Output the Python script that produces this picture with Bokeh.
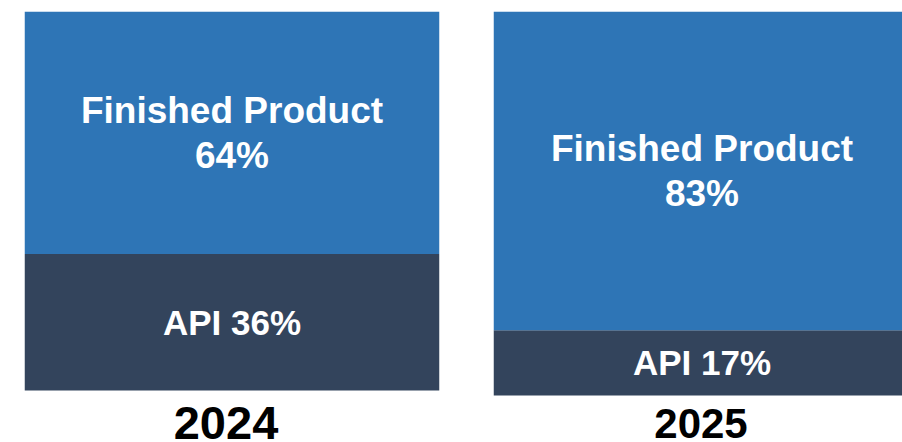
from bokeh.plotting import figure
from bokeh.models import Range1d
from bokeh.layouts import row
from bokeh.core.properties import value
from bokeh.embed import file_html
from bokeh.resources import INLINE

# ---- data ----
years = ["2024", "2025"]
api_share = [36, 17]
finished_share = [64, 83]
api_name = "API"
finished_name = "Finished Product"

# ---- style ----
BLUE = "#2E75B6"
DARK = "#33445C"
FONT = "Liberation Sans"

# per-panel geometry (pixels): frame box and where 0 lies
panels = [
    dict(width=478, height=442, left=24, right=39, top=11, bar_px=379, zero_px=390,
         bar_w_px=415, year_size="47px", year_dy=32, year_dx=-6),
    dict(width=424, height=442, left=15, right=0, top=10, bar_px=385, zero_px=395,
         bar_w_px=417, year_size="42px", year_dy=28, year_dx=-1),
]

figs = []
for i, cfg in enumerate(panels):
    frame_w = cfg["width"] - cfg["left"] - cfg["right"]
    below_px = cfg["height"] - cfg["zero_px"]
    y_start = -below_px * 100.0 / cfg["bar_px"]
    x_end = -0.5 + frame_w / cfg["bar_w_px"]
    p = figure(width=cfg["width"], height=cfg["height"],
               x_range=Range1d(-0.5, x_end), y_range=Range1d(y_start, 100),
               output_backend="svg", toolbar_location=None,
               x_axis_location=None, y_axis_location=None,
               min_border=0,
               min_border_left=cfg["left"], min_border_right=cfg["right"],
               min_border_top=cfg["top"], min_border_bottom=0,
               outline_line_color=None, background_fill_color="white",
               border_fill_color="white")
    p.xgrid.visible = False
    p.ygrid.visible = False

    api = api_share[i]
    fin = finished_share[i]
    p.vbar(x=[0], bottom=[0], top=[api], width=1, fill_color=DARK, line_color=None)
    p.vbar(x=[0], bottom=[api], top=[api + fin], width=1, fill_color=BLUE, line_color=None)

    p.text(x=[0], y=[api + fin / 2], text=[f"{finished_name}\n{fin}%"],
           text_align="center", text_baseline="middle",
           text_font=value(FONT), text_font_style="bold",
           text_font_size="37px", text_color="white", text_line_height=1.1)
    p.text(x=[0], y=[api / 2], text=[f"{api_name} {api}%"],
           text_align="center", text_baseline="middle",
           text_font=value(FONT), text_font_style="bold",
           text_font_size="35px", text_color="white")

    p.text(x=[0], y=[0], text=[years[i]], x_offset=cfg["year_dx"], y_offset=cfg["year_dy"],
           text_align="center", text_baseline="middle",
           text_font=value(FONT), text_font_style="bold",
           text_font_size=cfg["year_size"], text_color="black")
    figs.append(p)

layout = row(*figs)
open("out.html", "w").write(file_html(layout, INLINE))
